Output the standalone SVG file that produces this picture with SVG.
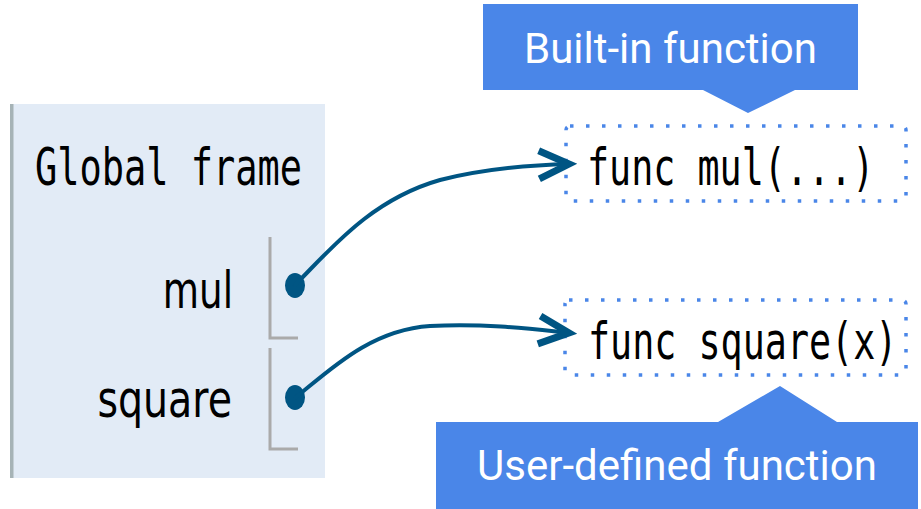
<svg xmlns="http://www.w3.org/2000/svg" width="921" height="509" viewBox="0 0 921 509">
  <style>
    .frame-bg { fill: #e2ebf6; }
    .frame-edge { fill: #a6b3b6; }
    .mono { font-family: "DejaVu Sans Mono", "Liberation Mono", monospace; font-size: 51px; fill: #000; }
    .varname { font-family: "DejaVu Sans", "Liberation Sans", sans-serif; font-size: 51px; fill: #000; text-anchor: end; }
    .bracket { fill: none; stroke: #aaaaaa; stroke-width: 3; }
    .ptr-dot { fill: #005583; }
    .ptr { fill: none; stroke: #005583; stroke-width: 4; stroke-linecap: round; }
    .obj { fill: none; stroke: #4a86e8; stroke-width: 3.5; stroke-dasharray: 3.5 12.5; }
    .callout { fill: #4a86e8; }
    .callout-text { font-family: Roboto, "Noto Sans", sans-serif; font-size: 42px; fill: #ffffff; text-anchor: middle; }
  </style>
  <defs>
    <marker id="chevron" markerUnits="userSpaceOnUse" viewBox="-40 -20 50 40" refX="0" refY="0" markerWidth="50" markerHeight="40" orient="auto">
      <path d="M-31,-14 L-1,0 L-31,14" fill="none" stroke="#005583" stroke-width="7" stroke-linejoin="miter"/>
    </marker>
  </defs>

  <!-- global frame with its two variables -->
  <g id="global-frame">
    <rect class="frame-bg" x="13" y="104" width="312" height="374"/>
    <rect class="frame-edge" x="10" y="104" width="3.5" height="374"/>
    <text class="mono" transform="translate(35,185) scale(0.725,1)">Global frame</text>
  </g>

  <g id="var-mul">
    <text class="varname" transform="translate(233,308) scale(0.73,1)">mul</text>
    <polyline class="bracket" points="270,237 270,338 298,338"/>
    <ellipse class="ptr-dot" cx="295" cy="285.5" rx="10" ry="12.5"/>
  </g>

  <g id="var-square">
    <text class="varname" transform="translate(232,417) scale(0.775,1)">square</text>
    <polyline class="bracket" points="270,348 270,449 298,449"/>
    <ellipse class="ptr-dot" cx="295" cy="397.5" rx="10" ry="12.5"/>
  </g>

  <!-- function objects -->
  <g id="obj-mul">
    <rect class="obj" x="566" y="126" width="340" height="75" rx="4"/>
    <text class="mono" transform="translate(587,185) scale(0.72,1)">func mul(...)</text>
  </g>

  <g id="obj-square">
    <rect class="obj" x="565" y="300" width="341" height="75" rx="4"/>
    <text class="mono" transform="translate(588,359) scale(0.72,1)">func square(x)</text>
  </g>

  <!-- callouts -->
  <g id="callout-builtin">
    <path class="callout" d="M483,4 H858 V90 H795 L748,113 L703,90 H483 Z"/>
    <text class="callout-text" x="670.5" y="63">Built-in function</text>
  </g>

  <g id="callout-user">
    <path class="callout" d="M436,422 H718 L780,386 L837,422 H918 V509 H436 Z"/>
    <text class="callout-text" x="677" y="480">User-defined function</text>
  </g>

  <!-- pointers from frame variables to function objects -->
  <g id="connectors">
    <path class="ptr" d="M295,285 C330,250 370,200 440,180 C480,170 530,165 570,164" marker-end="url(#chevron)"/>
    <path class="ptr" d="M295,398 C330,370 370,330 430,326 C490,323 540,330 570,333" marker-end="url(#chevron)"/>
  </g>
</svg>
